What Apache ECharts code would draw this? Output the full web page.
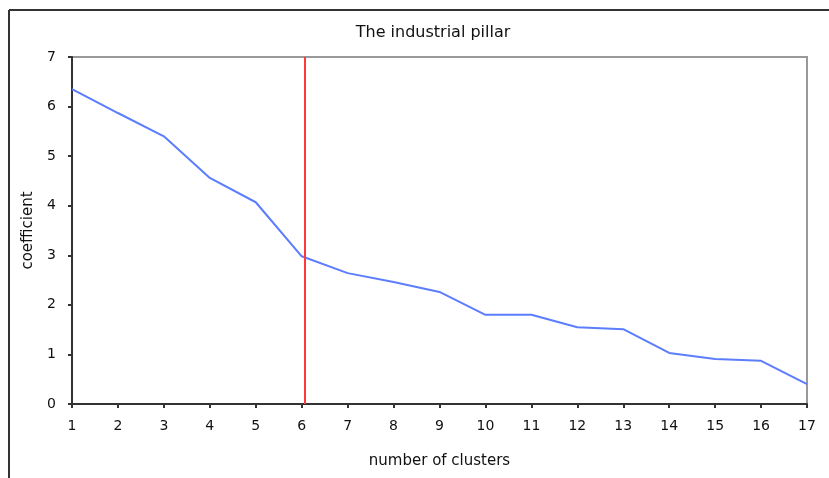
<!DOCTYPE html>
<html>
<head>
<meta charset="utf-8">
<script src="https://cdn.jsdelivr.net/npm/echarts@6/dist/echarts.min.js"></script>
<style>
  html, body { margin: 0; padding: 0; background: #fff; }
  #main { width: 829px; height: 478px; }
</style>
</head>
<body>
<div id="main"></div>
<script>
// data
var clusters = [1, 2, 3, 4, 5, 6, 7, 8, 9, 10, 11, 12, 13, 14, 15, 16, 17];
var coefficient = [6.35, 5.87, 5.40, 4.56, 4.07, 2.98, 2.64, 2.46, 2.26, 1.80, 1.80, 1.55, 1.51, 1.03, 0.91, 0.87, 0.40];
var cutoff = 6.07;

var points = [];
for (var i = 0; i < clusters.length; i++) {
  points.push([clusters[i], coefficient[i]]);
}

var myChart = echarts.init(document.getElementById('main'));
var font = '"DejaVu Sans", Verdana, sans-serif';

var option = {
  animation: false,
  backgroundColor: '#fff',
  textStyle: { fontFamily: font },
  title: {
    text: 'The industrial pillar',
    left: 428,
    top: 20,
    textAlign: 'center',
    textStyle: { fontSize: 16, fontWeight: 'normal', color: '#111', fontFamily: font }
  },
  grid: {
    left: 72, right: 22, top: 57, bottom: 74,
    show: true,
    borderColor: '#999',
    borderWidth: 2,
    backgroundColor: '#fff'
  },
  xAxis: {
    type: 'value',
    min: 1, max: 17, interval: 1,
    name: 'number of clusters',
    nameLocation: 'middle',
    nameGap: 50,
    nameTextStyle: { fontSize: 15, color: '#111', fontFamily: font },
    axisLine: { lineStyle: { color: '#333', width: 2 } },
    axisTick: { length: 4, lineStyle: { color: '#333', width: 2 } },
    axisLabel: { fontSize: 14, color: '#111', margin: 15, fontFamily: font },
    splitLine: { show: false }
  },
  yAxis: {
    type: 'value',
    min: 0, max: 7, interval: 1,
    name: 'coefficient',
    nameLocation: 'middle',
    nameGap: 36,
    nameRotate: 90,
    nameTextStyle: { fontSize: 15, color: '#111', fontFamily: font },
    axisLine: { show: true, lineStyle: { color: '#333', width: 2 } },
    axisTick: { show: true, length: 4, lineStyle: { color: '#333', width: 2 } },
    axisLabel: { fontSize: 14, color: '#111', margin: 16, fontFamily: font },
    splitLine: { show: false }
  },
  graphic: [
    { type: 'line', shape: { x1: 9, y1: 10, x2: 829, y2: 10 }, style: { stroke: '#333', lineWidth: 2 } },
    { type: 'line', shape: { x1: 9, y1: 10, x2: 9, y2: 478 }, style: { stroke: '#333', lineWidth: 2 } }
  ],
  series: [
    {
      name: 'coefficient',
      type: 'line',
      data: points,
      showSymbol: false,
      lineStyle: { color: '#5c7dff', width: 2 },
      markLine: {
        silent: true,
        symbol: 'none',
        label: { show: false },
        lineStyle: { color: '#ff3838', width: 2, type: 'solid' },
        data: [{ xAxis: cutoff }]
      }
    }
  ]
};

if (option && typeof option === "object") {
  myChart.setOption(option, true);
}
</script>
</body>
</html>
